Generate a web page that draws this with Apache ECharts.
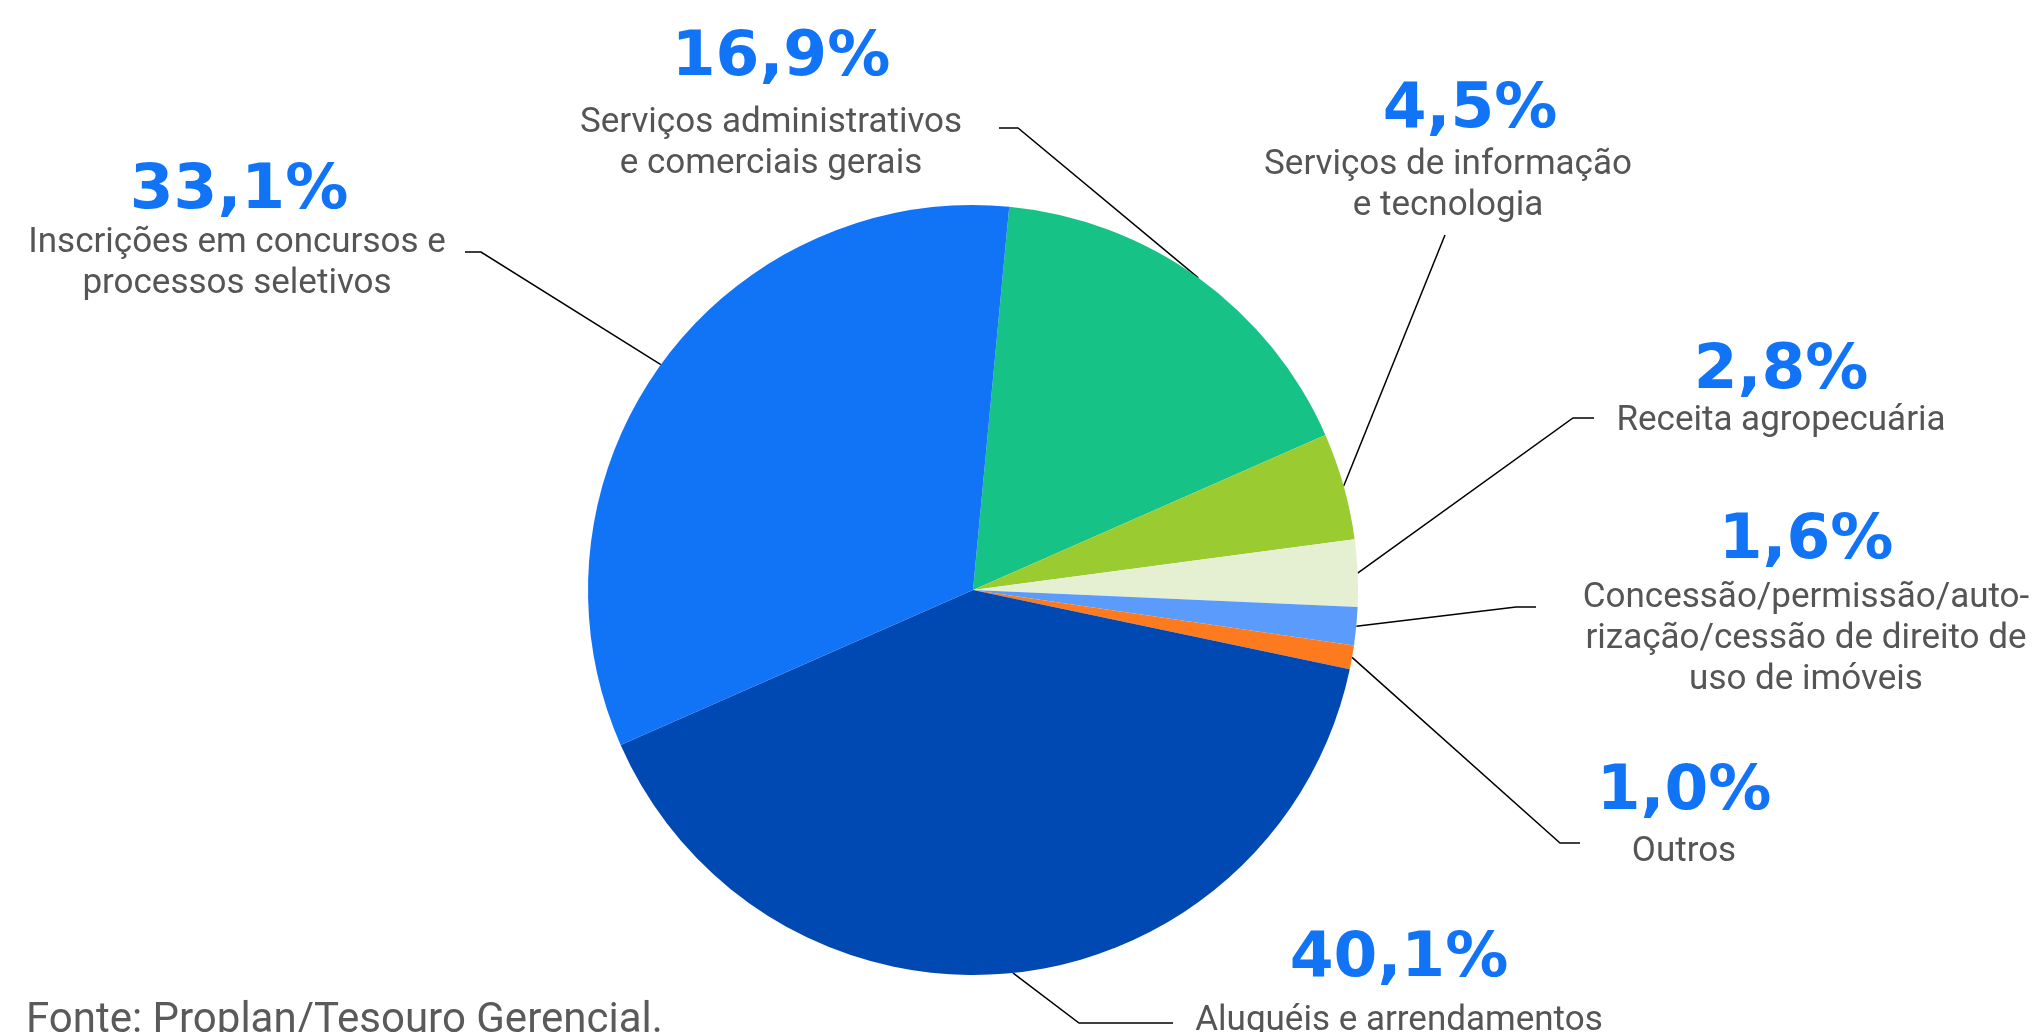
<!DOCTYPE html>
<html>
<head>
<meta charset="utf-8">
<script src="https://cdn.jsdelivr.net/npm/echarts@6/dist/echarts.min.js"></script>
<style>
  html, body { margin: 0; padding: 0; background: #ffffff; }
  #chart { width: 2034px; height: 1032px; }
</style>
</head>
<body>
<div id="chart"></div>
<script>
// Receitas próprias por natureza (% do total)
const categories = [
  'Serviços administrativos\ne comerciais gerais',
  'Serviços de informação\ne tecnologia',
  'Receita agropecuária',
  'Concessão/permissão/auto-\nrização/cessão de direito de\nuso de imóveis',
  'Outros',
  'Aluguéis e arrendamentos',
  'Inscrições em concursos e\nprocessos seletivos'
];
const shares = [16.9, 4.5, 2.8, 1.6, 1.0, 40.1, 33.1];
const sliceColors = ['#17C287', '#9ACC32', '#E5F0D2', '#5B9BFC', '#FD7B1E', '#0048B2', '#1174F7'];
const sourceNote = 'Fonte: Proplan/Tesouro Gerencial.';

// Placement of each label block: x = centre of the text, py = centre of the
// percentage line, gap = distance down to the first name line, dx = nudge of
// the percentage, line = elbow and end point of the leader line.
const NAME_LH = 41;
const labelPlacement = [
  { x: 771,  py: 59,  gap: 64, dx: 10, line: [[1018, 128], [999, 128]] },
  { x: 1448, py: 111, gap: 54, dx: 22, line: [[1445, 235], [1445, 235]] },
  { x: 1781, py: 372, gap: 49, dx: 0,  line: [[1573, 418], [1594, 418]] },
  { x: 1806, py: 542, gap: 56, dx: 0,  line: [[1516, 607], [1536, 607]] },
  { x: 1684, py: 793, gap: 59, dx: 0,  line: [[1560, 843], [1580, 843]] },
  { x: 1399, py: 960, gap: 61, dx: 0,  line: [[1079, 1023], [1173, 1023]] },
  { x: 237,  py: 192, gap: 51, dx: 2,  line: [[481, 252], [465, 252]] }
];

function pctLineHeight(p) { return 2 * (p.gap - NAME_LH / 2); }
function fmtPct(v) { return v.toFixed(1).replace('.', ',') + '%'; }

const pieData = categories.map(function (name, i) {
  const p = labelPlacement[i];
  return {
    name: name,
    value: shares[i],
    itemStyle: { color: sliceColors[i] },
    label: { rich: { p: { lineHeight: pctLineHeight(p), padding: [0, 0, 0, 2 * p.dx] } } }
  };
});

const chart = echarts.init(document.getElementById('chart'), null, { renderer: 'canvas' });
chart.setOption({
  backgroundColor: '#ffffff',
  animation: false,
  title: {
    text: sourceNote,
    left: 21,
    top: 995,
    textStyle: { fontFamily: 'Roboto', fontSize: 42, fontWeight: 400, color: '#5a5a5a' }
  },
  series: [{
    type: 'pie',
    center: [973, 590],
    radius: 385,
    startAngle: 84.6,
    clockwise: true,
    avoidLabelOverlap: false,
    silent: true,
    emphasis: { disabled: true },
    itemStyle: { borderWidth: 0 },
    data: pieData,
    label: {
      show: true,
      position: 'outside',
      formatter: function (params) {
        return '{p|' + fmtPct(params.value) + '}\n{n|' + params.name + '}';
      },
      rich: {
        p: { fontFamily: 'DejaVu Sans', fontWeight: 'bold', fontSize: 63, color: '#1174F7', align: 'center' },
        n: { fontFamily: 'Roboto', fontSize: 35, color: '#555555', lineHeight: NAME_LH, align: 'center' }
      }
    },
    labelLine: {
      show: true,
      length: 20,
      length2: 20,
      lineStyle: { color: '#000000', width: 1.5 }
    },
    labelLayout: function (params) {
      const p = labelPlacement[params.dataIndex];
      const lp = pctLineHeight(p);
      const out = { x: p.x, y: p.py - lp / 2, align: 'center', verticalAlign: 'top' };
      if (params.labelLinePoints && params.labelLinePoints.length) {
        out.labelLinePoints = [params.labelLinePoints[0], p.line[0], p.line[1]];
      }
      return out;
    }
  }]
});
</script>
</body>
</html>
